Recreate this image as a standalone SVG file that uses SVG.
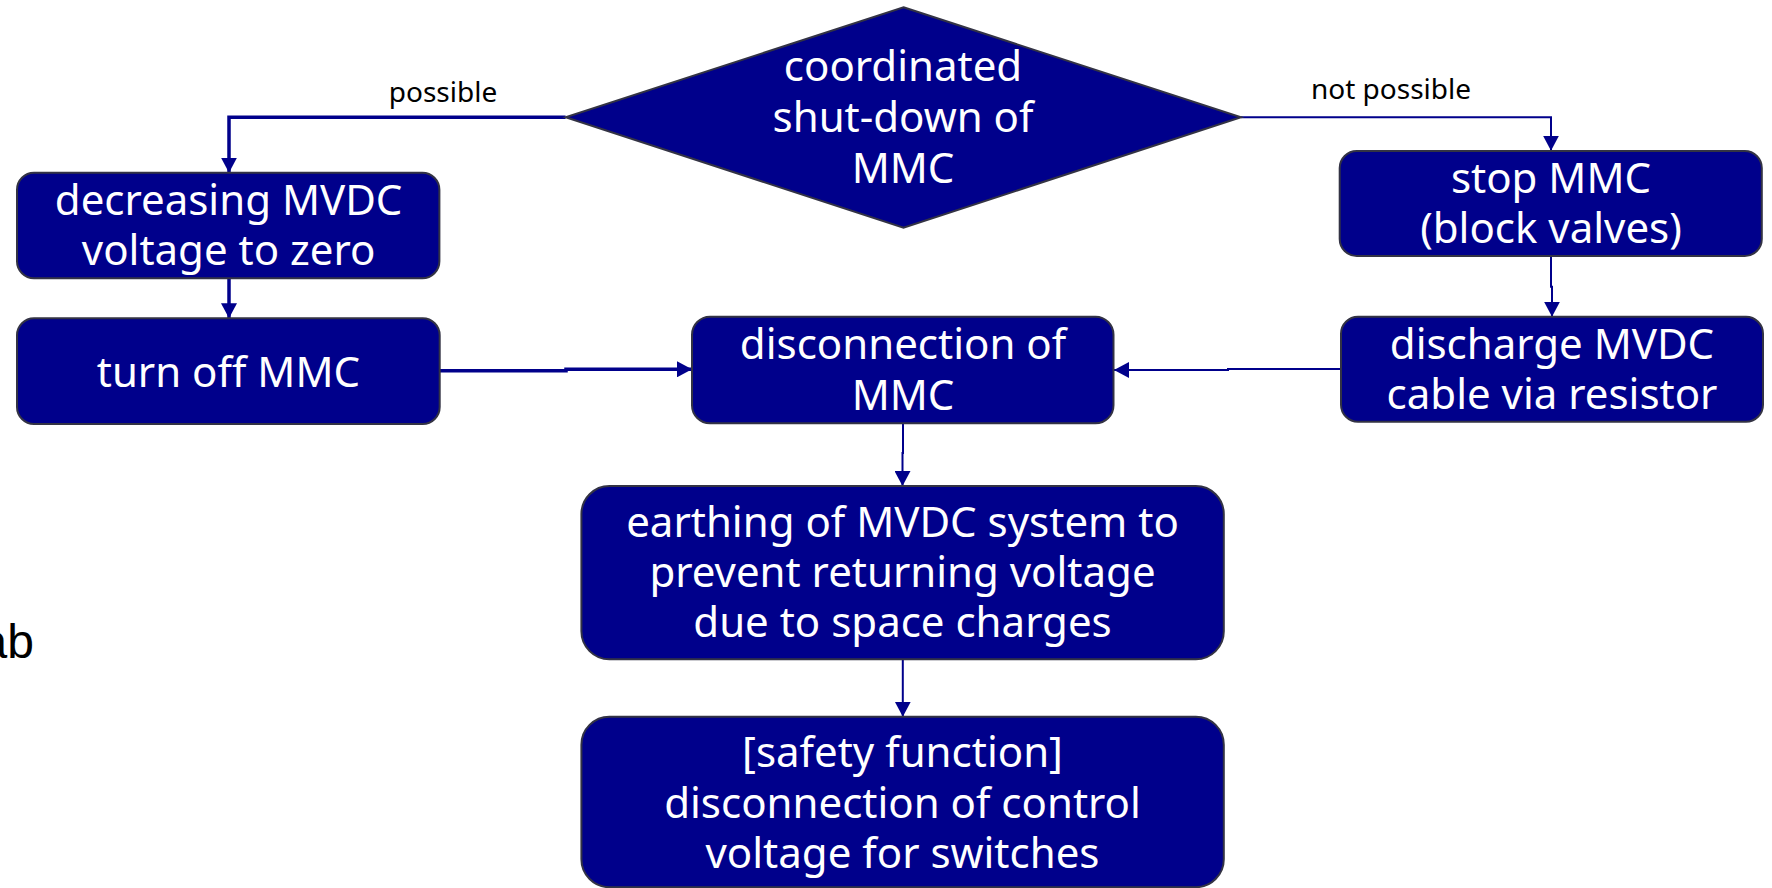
<svg xmlns="http://www.w3.org/2000/svg" width="1772" height="888" viewBox="0 0 1772 888">
  <defs>
    <marker id="arrow" markerUnits="userSpaceOnUse" markerWidth="16" markerHeight="16" refX="15" refY="8" orient="auto">
      <path d="M0,0 L15,8 L0,16 z" fill="#00008B"/>
    </marker>
    <style>
      .box { fill: #00008B; stroke: #333344; stroke-width: 2; }
      .lbl { fill: #ffffff; font-family: "Noto Sans", "Open Sans", sans-serif; font-size: 42px; text-anchor: middle; }
      .edge { fill: none; stroke: #00008B; marker-end: url(#arrow); }
      .thick { stroke-width: 3.5; }
      .thin { stroke-width: 2; }
      .elbl { fill: #000000; font-family: "Noto Sans", "Open Sans", sans-serif; font-size: 28px; text-anchor: middle; }
    </style>
  </defs>

  <rect width="1772" height="888" fill="#ffffff"/>

  <!-- stray text at the left edge -->
  <text x="34" y="658" font-family="Liberation Sans, Arial, sans-serif" font-size="48" text-anchor="end" fill="#000000">ab</text>

  <!-- connectors -->
  <g id="connectors">
    <path class="edge thick" d="M565.6,117.3 H229 V172.7"/>
    <path class="edge thin" d="M1241,117.3 H1551 V150.7"/>
    <path class="edge thick" d="M229,278.3 V318.3"/>
    <path class="edge thin" d="M1551,256 V286.7 H1552 V316.7"/>
    <path class="edge thick" d="M439.7,370.7 H566 V369.3 H692"/>
    <path class="edge thin" d="M1341,369 H1228 V370 H1114"/>
    <path class="edge thin" d="M903,423.3 V453 H902.5 V486"/>
    <path class="edge thin" d="M902.8,659.3 V716.7"/>
    <text class="elbl" x="443" y="101.5">possible</text>
    <text class="elbl" x="1391" y="98.5">not possible</text>
  </g>

  <!-- decision -->
  <g id="decision">
    <polygon class="box" points="903.5,7.3 1241,117.3 903.5,227.7 565.6,117.3"/>
    <text class="lbl" x="903" y="81">coordinated</text>
    <text class="lbl" x="903" y="132">shut-down of</text>
    <text class="lbl" x="903" y="183">MMC</text>
  </g>

  <g id="decrease-voltage">
    <rect class="box" x="17" y="172.7" width="422.4" height="105.6" rx="17"/>
    <text class="lbl" x="228.6" y="215">decreasing MVDC</text>
    <text class="lbl" x="228.6" y="265">voltage to zero</text>
  </g>

  <g id="turn-off">
    <rect class="box" x="17" y="318.3" width="422.7" height="105.7" rx="17"/>
    <text class="lbl" x="228.4" y="386.7">turn off MMC</text>
  </g>

  <g id="stop-mmc">
    <rect class="box" x="1339.7" y="151" width="422.1" height="105" rx="17"/>
    <text class="lbl" x="1551" y="193.3">stop MMC</text>
    <text class="lbl" x="1551" y="243.3">(block valves)</text>
  </g>

  <g id="discharge">
    <rect class="box" x="1341" y="316.7" width="422" height="105" rx="17"/>
    <text class="lbl" x="1552" y="359.3">discharge MVDC</text>
    <text class="lbl" x="1552" y="409.3">cable via resistor</text>
  </g>

  <g id="disconnection">
    <rect class="box" x="692" y="316.7" width="421.5" height="106.6" rx="18"/>
    <text class="lbl" x="903" y="359.3">disconnection of</text>
    <text class="lbl" x="903" y="410">MMC</text>
  </g>

  <g id="earthing">
    <rect class="box" x="581.4" y="486" width="642.4" height="173.3" rx="28"/>
    <text class="lbl" x="902.5" y="536.7">earthing of MVDC system to</text>
    <text class="lbl" x="902.5" y="586.7">prevent returning voltage</text>
    <text class="lbl" x="902.5" y="637.3">due to space charges</text>
  </g>

  <g id="safety">
    <rect class="box" x="581.4" y="716.7" width="642.4" height="170.5" rx="28"/>
    <text class="lbl" x="902.5" y="766.7">[safety function]</text>
    <text class="lbl" x="902.5" y="818.3">disconnection of control</text>
    <text class="lbl" x="902.5" y="868.3">voltage for switches</text>
  </g>
</svg>
